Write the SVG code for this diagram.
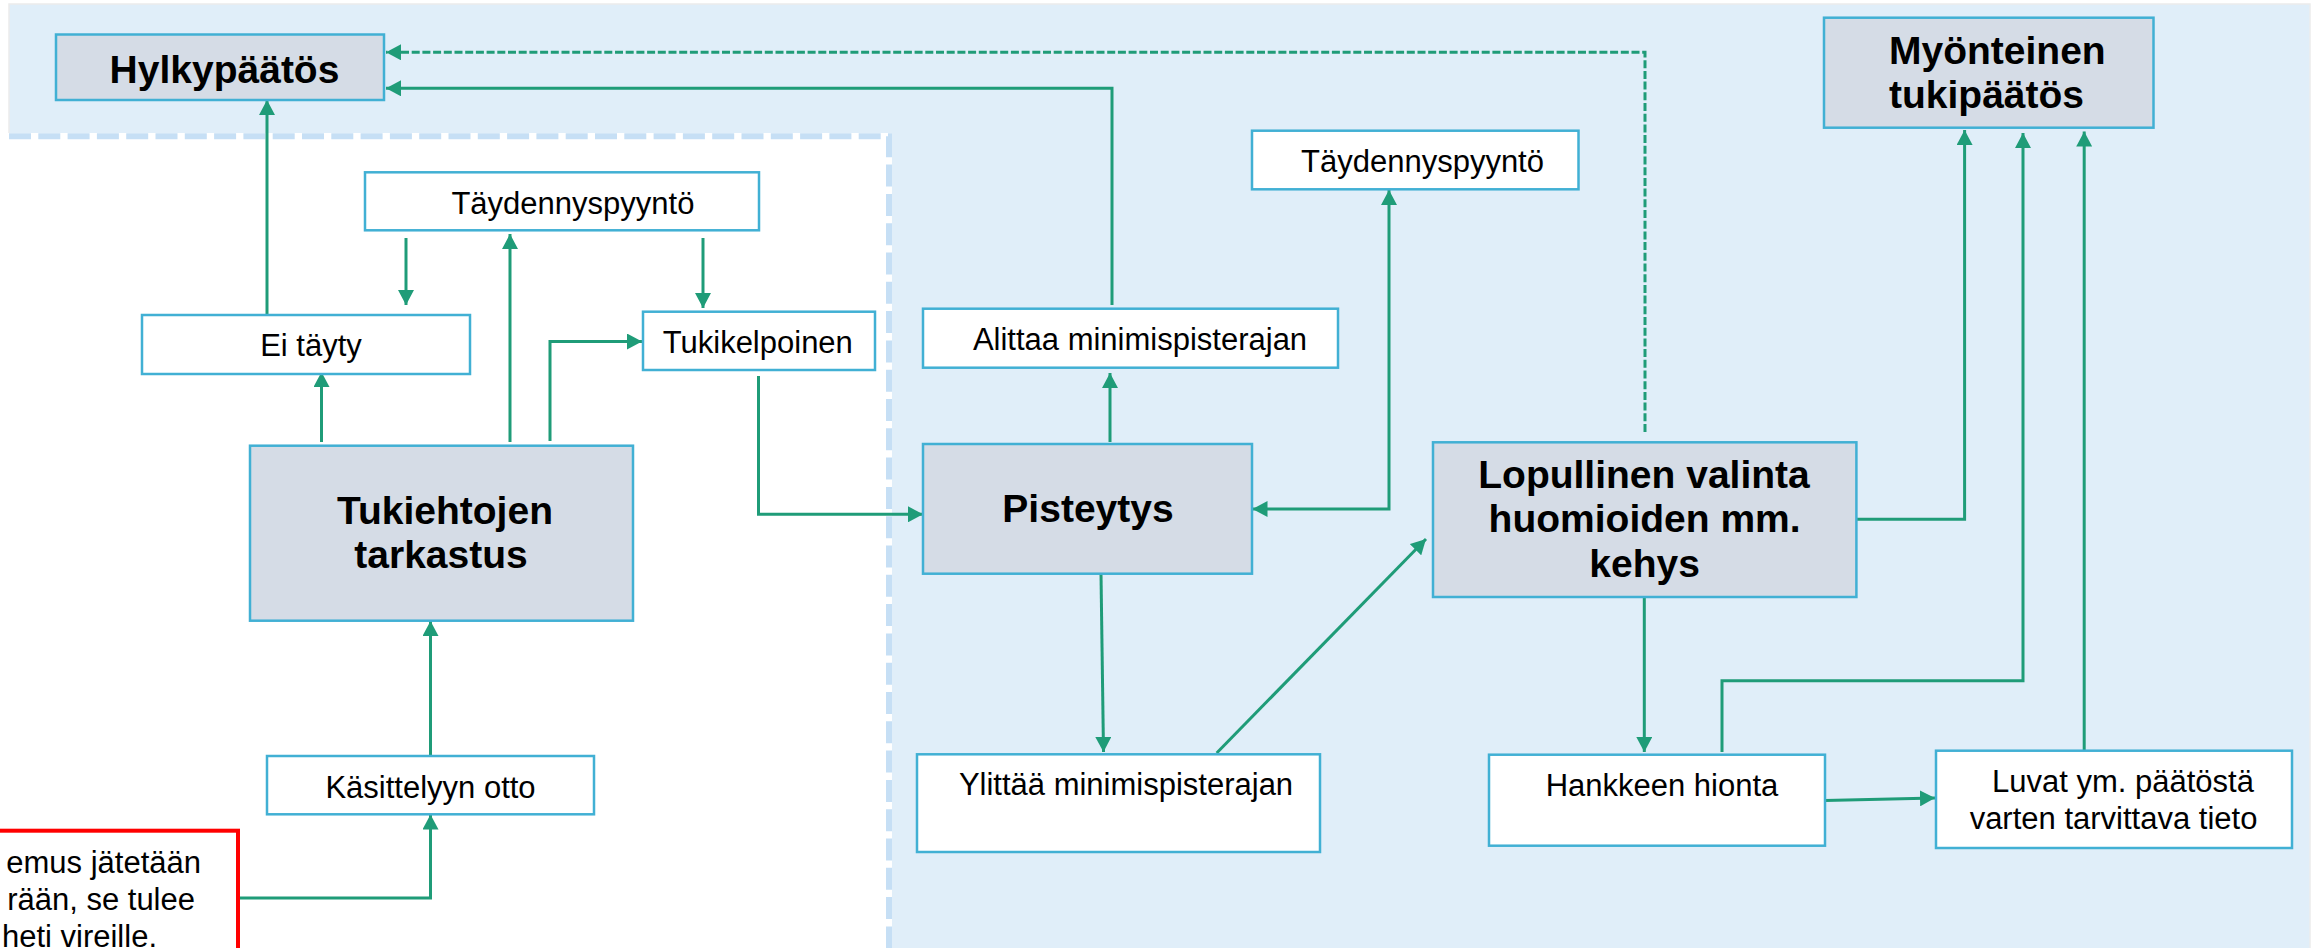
<svg xmlns="http://www.w3.org/2000/svg" width="2321" height="948" viewBox="0 0 2321 948">
<defs>
<marker id="ah" markerUnits="userSpaceOnUse" markerWidth="16" markerHeight="16" refX="15" refY="8" orient="auto-start-reverse">
<path d="M0,0 L15,8 L0,16 z" fill="#1f9c78"/>
</marker>
<style>
.box{fill:#ffffff;stroke:#41b0d4;stroke-width:2.5}
.grey{fill:#d5dce6;stroke:#41b0d4;stroke-width:2.5}
.t{font-family:"Liberation Sans",Arial,sans-serif;font-size:31px;fill:#000}
.b{font-family:"Liberation Sans",Arial,sans-serif;font-size:39px;font-weight:bold;fill:#000}
.c{text-anchor:middle}
.e{text-anchor:end}
.ln{fill:none;stroke:#1f9c78;stroke-width:3;marker-end:url(#ah)}
.both{marker-start:url(#ah)}
.ds{fill:none;stroke:#1f9c78;stroke-width:3;stroke-dasharray:8 2.7;marker-end:url(#ah)}
</style>
</defs>
<rect width="2321" height="948" fill="#ffffff"/>
<g id="background">
<rect x="9" y="4" width="2301" height="960" fill="#e0eef9" stroke="#ececec" stroke-width="1.5"/>
<rect x="-20" y="133" width="912" height="830" fill="#ffffff"/>
<path d="M9,136.3 H889 V960" fill="none" stroke="#c6dff5" stroke-width="6" stroke-dasharray="22 7.3"/>
</g>
<g id="connectors">
<line class="ln" x1="267" y1="315" x2="267" y2="100"/>
<line class="ln" x1="321.5" y1="442" x2="321.5" y2="372"/>
<line class="ln" x1="406" y1="238" x2="406" y2="305"/>
<line class="ln" x1="510" y1="442" x2="510" y2="234"/>
<line class="ln" x1="703" y1="238" x2="703" y2="308"/>
<polyline class="ln" points="550,441 550,341.5 642,341.5"/>
<line class="ln" x1="430.5" y1="756" x2="430.5" y2="621"/>
<polyline class="ln" points="238,898 430.5,898 430.5,814.5"/>
<polyline class="ln" points="758.5,376 758.5,514.3 923,514.3"/>
<line class="ln" x1="1110" y1="442" x2="1110" y2="373"/>
<polyline class="ln" points="1112,305 1112,88.3 386,88.3"/>
<polyline class="ds" points="1645,432 1645,52.3 386,52.3"/>
<polyline class="ln both" points="1389,190 1389,509 1252.5,509"/>
<line class="ln" x1="1101" y1="574" x2="1103.5" y2="752"/>
<line class="ln" x1="1216.7" y1="753" x2="1426" y2="539"/>
<line class="ln" x1="1644.3" y1="597" x2="1644.3" y2="752"/>
<polyline class="ln" points="1856,519.3 1964.6,519.3 1964.6,130"/>
<polyline class="ln" points="1722,752 1722,680.7 2023,680.7 2023,133"/>
<line class="ln" x1="2084.2" y1="751" x2="2084.2" y2="131.5"/>
<line class="ln" x1="1825" y1="800.5" x2="1935" y2="798"/>
</g>
<g id="hylkypaatos">
<rect class="grey" x="56" y="34.5" width="328" height="65.5"/>
<text class="b c" x="224.5" y="82.7">Hylkypäätös</text>
</g>
<g id="taydennys-left">
<rect class="box" x="365" y="172.3" width="394" height="58"/>
<text class="t c" x="572.9" y="214">Täydennyspyyntö</text>
</g>
<g id="ei-tayty">
<rect class="box" x="142" y="315" width="328" height="59"/>
<text class="t c" x="311" y="356">Ei täyty</text>
</g>
<g id="tukikelpoinen">
<rect class="box" x="643" y="311.7" width="232" height="58.3"/>
<text class="t c" x="757.8" y="353.3">Tukikelpoinen</text>
</g>
<g id="tukiehtojen">
<rect class="grey" x="250" y="445.7" width="383" height="175"/>
<text class="b c" x="445" y="524.3">Tukiehtojen</text>
<text class="b c" x="441" y="568.3">tarkastus</text>
</g>
<g id="kasittelyyn">
<rect class="box" x="267" y="756" width="327" height="58.3"/>
<text class="t c" x="430.5" y="798">Käsittelyyn otto</text>
</g>
<g id="hakemus">
<rect x="-300" y="830.7" width="538" height="200" fill="#ffffff" stroke="#ff0000" stroke-width="4"/>
<text class="t e" x="201" y="872.7">emus jätetään</text>
<text class="t e" x="195" y="910" font-size="32">rään, se tulee</text>
<text class="t e" x="157" y="946.5">heti vireille.</text>
</g>
<g id="taydennys-right">
<rect class="box" x="1252" y="130.7" width="326.5" height="58.6"/>
<text class="t c" x="1422.5" y="171.7">Täydennyspyyntö</text>
</g>
<g id="alittaa">
<rect class="box" x="923" y="308.7" width="415" height="59"/>
<text class="t c" x="1140" y="350">Alittaa minimispisterajan</text>
</g>
<g id="pisteytys">
<rect class="grey" x="923" y="444" width="329" height="129.7"/>
<text class="b c" x="1088" y="521.7">Pisteytys</text>
</g>
<g id="ylittaa">
<rect class="box" x="917" y="754.3" width="403" height="97.7"/>
<text class="t c" x="1126" y="795">Ylittää minimispisterajan</text>
</g>
<g id="lopullinen">
<rect class="grey" x="1433" y="442.3" width="423.4" height="154.7"/>
<text class="b c" x="1644" y="488.3">Lopullinen valinta</text>
<text class="b c" x="1644.6" y="531.7">huomioiden mm.</text>
<text class="b c" x="1644.6" y="576.7">kehys</text>
</g>
<g id="hankkeen">
<rect class="box" x="1489" y="754.7" width="336" height="91"/>
<text class="t c" x="1662" y="795.7">Hankkeen hionta</text>
</g>
<g id="luvat">
<rect class="box" x="1936" y="750.7" width="356" height="97.3"/>
<text class="t c" x="2123" y="791.7">Luvat ym. päätöstä</text>
<text class="t c" x="2113.5" y="829">varten tarvittava tieto</text>
</g>
<g id="myonteinen">
<rect class="grey" x="1824" y="17.7" width="329.5" height="110"/>
<text class="b" x="1889" y="64.3">Myönteinen</text>
<text class="b" x="1889" y="107.7">tukipäätös</text>
</g>
</svg>
